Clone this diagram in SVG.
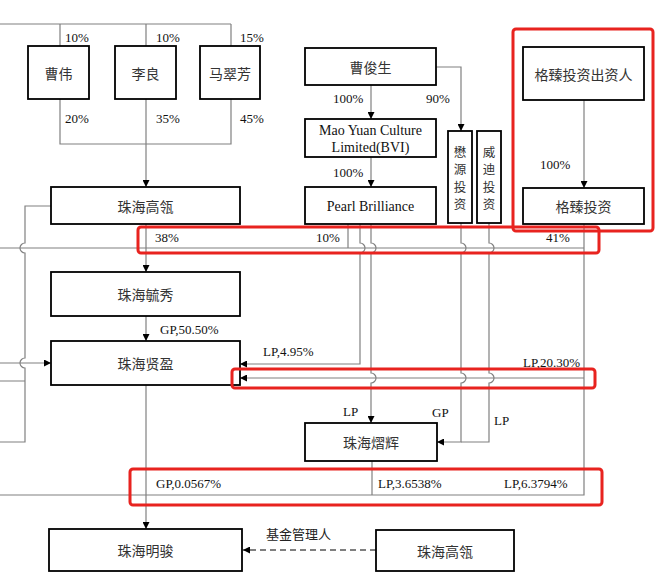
<svg xmlns="http://www.w3.org/2000/svg" width="657" height="578" viewBox="0 0 657 578">
<defs>
<marker id="ah" viewBox="0 0 10 10" refX="10" refY="5" markerWidth="7" markerHeight="7" markerUnits="userSpaceOnUse" orient="auto">
<path d="M0,0 L10,5 L0,10 z" fill="#000"/>
</marker>
<style>
.box{fill:#fff;stroke:#000;stroke-width:1.8}
.zh{font-family:"Noto Sans CJK SC","Noto Sans",sans-serif;font-size:14px;fill:#333;text-anchor:middle;dominant-baseline:central}
.zv{font-family:"Noto Sans CJK SC","Noto Sans",sans-serif;font-size:12.5px;fill:#333;text-anchor:middle;dominant-baseline:central}
.en{font-family:"Liberation Serif",serif;font-size:13px;fill:#111}
.enc{font-family:"Liberation Serif",serif;font-size:14px;fill:#111;text-anchor:middle;dominant-baseline:central}
.ln{fill:none;stroke:#808080;stroke-width:1.2}
.arr{marker-end:url(#ah)}
.dash{fill:none;stroke:#000;stroke-width:1.2;stroke-dasharray:6,4}
.hl{fill:none;stroke:#e8231f;stroke-width:3}
.lbl{font-family:"Noto Sans CJK SC",sans-serif;font-size:13px;fill:#222}
</style>
</defs>
<g id="connectors">
<path class="ln" d="M0,24 H231 M60,24 V46 M146,24 V46 M231,24 V46"/>
<path class="ln" d="M60,99 V144 H231 V99"/>
<path class="ln arr" d="M146,99 V187"/>
<path class="ln" d="M51,206 H25 V243 A5,5 0 0 0 25,253 V358 A5,5 0 0 0 25,368 V442 H0 M0,381 H25"/>
<path class="ln arr" d="M0,363 H51"/>
<path class="ln" d="M0,248 H584"/>
<path class="ln arr" d="M146,224 V272"/>
<path class="ln" d="M348,224 V248"/>
<path class="ln" d="M584,224 V495 H0"/>
<path class="ln arr" d="M360,224 V243 A5,5 0 0 1 360,253 V364 H240"/>
<path class="ln arr" d="M371,224 V243 A5,5 0 0 1 371,253 V373 A5,5 0 0 1 371,383 V423"/>
<path class="ln arr" d="M461,223 V243 A5,5 0 0 1 461,253 V373 A5,5 0 0 1 461,383 V442 H437"/>
<path class="ln" d="M489,223 V243 A5,5 0 0 1 489,253 V373 A5,5 0 0 1 489,383 V442 H461"/>
<path class="ln arr" d="M584,378 H240"/>
<path class="ln arr" d="M146,316 V341"/>
<path class="ln arr" d="M146,385 V529"/>
<path class="ln" d="M372,461 V495"/>
<path class="ln arr" d="M371,85 V119"/>
<path class="ln arr" d="M371,157 V187"/>
<path class="ln arr" d="M436,67 H461 V131"/>
<path class="ln arr" d="M584,100 V188"/>
<path class="dash arr" d="M376,550 H243"/>
</g>
<g id="labels">
<text class="en" x="65" y="42">10%</text>
<text class="en" x="156" y="42">10%</text>
<text class="en" x="240" y="42">15%</text>
<text class="en" x="65" y="123">20%</text>
<text class="en" x="156" y="123">35%</text>
<text class="en" x="240" y="123">45%</text>
<text class="en" x="333" y="103">100%</text>
<text class="en" x="426" y="103">90%</text>
<text class="en" x="333" y="177">100%</text>
<text class="en" x="540" y="169">100%</text>
<text class="en" x="155" y="242">38%</text>
<text class="en" x="316" y="242">10%</text>
<text class="en" x="546" y="242">41%</text>
<text class="en" x="160" y="334">GP,50.50%</text>
<text class="en" x="263" y="356">LP,4.95%</text>
<text class="en" x="523" y="367">LP,20.30%</text>
<text class="en" x="343" y="416">LP</text>
<text class="en" x="432" y="417">GP</text>
<text class="en" x="494" y="425">LP</text>
<text class="en" x="156" y="488">GP,0.0567%</text>
<text class="en" x="378" y="488">LP,3.6538%</text>
<text class="en" x="504" y="488">LP,6.3794%</text>
<text class="lbl" x="266" y="539">基金管理人</text>
</g>
<g id="n-caowei"><rect class="box" x="28" y="46" width="61" height="53"/><text class="zh" x="58.5" y="72.5">曹伟</text></g>
<g id="n-liliang"><rect class="box" x="115" y="46" width="61" height="53"/><text class="zh" x="145.5" y="72.5">李良</text></g>
<g id="n-macuifang"><rect class="box" x="200" y="46" width="60" height="53"/><text class="zh" x="230" y="72.5">马翠芳</text></g>
<g id="n-gaoling"><rect class="box" x="51" y="187" width="189" height="37"/><text class="zh" x="145.5" y="205.5">珠海高瓴</text></g>
<g id="n-caojunsheng"><rect class="box" x="305" y="48" width="131" height="37"/><text class="zh" x="370.5" y="66.5">曹俊生</text></g>
<g id="n-maoyuan"><rect class="box" x="305" y="119" width="131" height="38"/><text class="enc" x="370.5" y="130">Mao Yuan Culture</text><text class="enc" x="370.5" y="147">Limited(BVI)</text></g>
<g id="n-pearl"><rect class="box" x="305" y="187" width="131" height="37"/><text class="enc" x="370.5" y="206">Pearl Brilliance</text></g>
<g id="n-maoyuantz"><rect class="box" x="448" y="131" width="24" height="92"/><text class="zv" x="460" y="151">懋</text><text class="zv" x="460" y="168.5">源</text><text class="zv" x="460" y="186">投</text><text class="zv" x="460" y="203.5">资</text></g>
<g id="n-weidi"><rect class="box" x="477" y="131" width="24" height="92"/><text class="zv" x="489" y="151">威</text><text class="zv" x="489" y="168.5">迪</text><text class="zv" x="489" y="186">投</text><text class="zv" x="489" y="203.5">资</text></g>
<g id="n-gezhencz"><rect class="box" x="523" y="47" width="121" height="53"/><text class="zh" x="583.5" y="74">格臻投资出资人</text></g>
<g id="n-gezhen"><rect class="box" x="523" y="188" width="121" height="36"/><text class="zh" x="583.5" y="206">格臻投资</text></g>
<g id="n-yuxiu"><rect class="box" x="51" y="272" width="189" height="44"/><text class="zh" x="145.5" y="294">珠海毓秀</text></g>
<g id="n-xianying"><rect class="box" x="51" y="341" width="189" height="44"/><text class="zh" x="145.5" y="363">珠海贤盈</text></g>
<g id="n-yihui"><rect class="box" x="305" y="423" width="132" height="38"/><text class="zh" x="371" y="442">珠海熠辉</text></g>
<g id="n-mingjun"><rect class="box" x="49" y="529" width="193" height="42"/><text class="zh" x="145.5" y="550">珠海明骏</text></g>
<g id="n-gaoling2"><rect class="box" x="376" y="530" width="138" height="41"/><text class="zh" x="445" y="550.5">珠海高瓴</text></g>
<g id="highlights">
<rect class="hl" x="513" y="29" width="140" height="202" rx="3"/>
<rect class="hl" x="138" y="227" width="461" height="26" rx="3"/>
<rect class="hl" x="232" y="369" width="363" height="19" rx="3"/>
<rect class="hl" x="130" y="469" width="472" height="36" rx="3"/>
</g>
</svg>
